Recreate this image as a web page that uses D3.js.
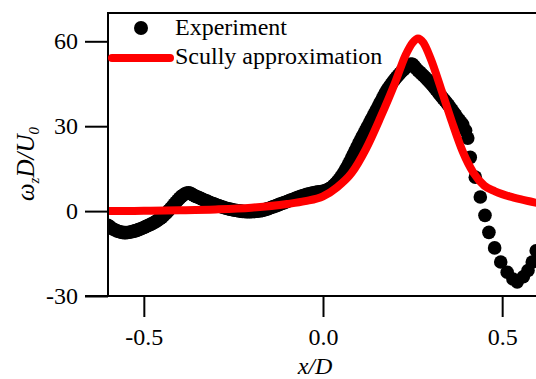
<!DOCTYPE html>
<html>
<head>
<meta charset="utf-8">
<script src="https://cdn.jsdelivr.net/npm/d3@7"></script>
<style>
  html, body { margin: 0; padding: 0; background: #fff; }
  svg { display: block; }
  text { font-family: "Liberation Serif", "Times New Roman", serif; fill: #000; }
</style>
</head>
<body>
<svg id="chart" width="536" height="379"></svg>
<script>
// Experiment (black dots)
const expX = [
-0.600,-0.595,-0.590,-0.585,-0.580,-0.575,-0.570,-0.565,-0.560,-0.555,
-0.550,-0.545,-0.540,-0.535,-0.530,-0.525,-0.520,-0.515,-0.510,-0.505,
-0.500,-0.495,-0.490,-0.485,-0.480,-0.475,-0.470,-0.465,-0.460,-0.455,
-0.450,-0.445,-0.440,-0.435,-0.430,-0.425,-0.420,-0.415,-0.410,-0.405,
-0.400,-0.395,-0.390,-0.385,-0.380,-0.375,-0.370,-0.365,-0.360,-0.355,
-0.350,-0.345,-0.340,-0.335,-0.330,-0.325,-0.320,-0.315,-0.310,-0.305,
-0.300,-0.295,-0.290,-0.285,-0.280,-0.275,-0.270,-0.265,-0.260,-0.255,
-0.250,-0.245,-0.240,-0.235,-0.230,-0.225,-0.220,-0.215,-0.210,-0.205,
-0.200,-0.195,-0.190,-0.185,-0.180,-0.175,-0.170,-0.165,-0.160,-0.155,
-0.150,-0.145,-0.140,-0.135,-0.130,-0.125,-0.120,-0.115,-0.110,-0.105,
-0.100,-0.095,-0.090,-0.085,-0.080,-0.075,-0.070,-0.065,-0.060,-0.055,
-0.050,-0.045,-0.040,-0.035,-0.030,-0.025,-0.020,-0.015,-0.010,-0.005,
0.000,0.005,0.010,0.015,0.020,0.025,0.030,0.035,0.040,0.045,
0.050,0.055,0.060,0.065,0.070,0.075,0.080,0.085,0.090,0.095,
0.100,0.105,0.110,0.115,0.120,0.125,0.130,0.135,0.140,0.145,
0.150,0.155,0.160,0.165,0.170,0.175,0.180,0.185,0.190,0.195,
0.200,0.205,0.210,0.215,0.220,0.225,0.230,0.235,0.240,0.245,
0.250,0.255,0.260,0.265,0.270,0.275,0.280,0.285,0.290,0.295,
0.300,0.305,0.310,0.315,0.320,0.325,0.330,0.335,0.340,0.345,
0.350,0.355,0.360,0.365,0.370,0.375,0.380,0.385,0.390,0.398,
0.404,0.411,0.425,0.439,0.452,0.463,0.479,0.496,0.514,0.530,
0.542,0.559,0.572,0.584,0.595];
const expY = [
-5.0,-5.5,-6.0,-6.4,-6.7,-7.0,-7.2,-7.4,-7.5,-7.6,
-7.6,-7.55,-7.45,-7.3,-7.15,-7.0,-6.8,-6.55,-6.3,-6.05,
-5.8,-5.5,-5.2,-4.9,-4.6,-4.3,-3.95,-3.55,-3.1,-2.65,
-2.2,-1.6,-1.0,-0.35,0.3,1.0,1.7,2.5,3.2,3.9,
4.6,5.2,5.7,6.1,6.4,6.5,6.3,5.9,5.5,5.2,
5.0,4.7,4.4,4.1,3.85,3.6,3.3,3.05,2.8,2.55,
2.3,2.05,1.85,1.6,1.4,1.2,1.0,0.85,0.7,0.55,
0.4,0.3,0.2,0.1,0.0,-0.1,-0.15,-0.2,-0.2,-0.2,
-0.2,-0.15,-0.1,0.0,0.05,0.1,0.25,0.4,0.6,0.8,
1.0,1.25,1.5,1.7,1.95,2.2,2.45,2.7,2.9,3.15,
3.4,3.65,3.9,4.1,4.35,4.6,4.85,5.05,5.3,5.5,
5.7,5.9,6.05,6.2,6.35,6.5,6.6,6.7,6.8,6.9,
7.0,7.2,7.4,7.7,8.1,8.5,9.1,9.7,10.4,11.2,
12.0,13.0,14.0,15.1,16.3,17.5,18.8,20.1,21.4,22.7,
24.0,25.2,26.4,27.6,28.8,30.0,31.2,32.4,33.6,34.8,
36.0,37.2,38.4,39.6,40.8,42.0,43.0,43.9,44.8,45.7,
46.5,47.3,48.0,48.7,49.4,50.0,50.6,51.1,51.6,52.0,
51.9,51.2,50.4,49.7,49.1,48.5,47.9,47.3,46.6,46.0,
45.3,44.6,43.8,43.0,42.2,41.4,40.6,39.8,39.1,38.3,
37.5,36.6,35.7,34.8,33.9,33.0,32.2,31.4,30.6,28.5,
25.8,19.0,12.0,5.0,-1.5,-7.5,-13.0,-18.0,-21.6,-24.0,
-25.0,-23.2,-21.0,-18.0,-14.0];

// Scully approximation (red line)
const scullyX = [-0.6,-0.5,-0.4,-0.3,-0.2,-0.1,-0.05,0.0,0.04,0.08,0.12,0.16,0.2,0.23,0.25,0.265,0.28,0.3,0.33,0.36,0.39,0.42,0.45,0.48,0.5,0.52,0.55,0.6];
const scullyY = [0,0.1,0.3,0.6,1.2,2.5,3.5,5.2,8.5,13.5,22,33,45,55,59.5,61,59.5,54,43,31.5,21,13.5,9,7,6,5.2,4.2,2.8];

const xTicks = [-0.5, 0.0, 0.5];
const yTicks = [-30, 0, 30, 60];
const legendLabels = ["Experiment", "Scully approximation"];

const FONT = '"Liberation Serif", "Times New Roman", serif';
const svg = d3.select("#chart");
const L = 108, R = 538, T = 13, B = 296;

const x = d3.scaleLinear().domain([-0.6, 0.6]).range([L, R]);
const y = d3.scaleLinear().domain([-30, 70]).range([B, T]);

svg.append("clipPath").attr("id", "clip")
  .append("rect").attr("x", L).attr("y", T).attr("width", R - L).attr("height", B - T);

const plot = svg.append("g").attr("clip-path", "url(#clip)");

const expData = expX.map((d, i) => ({x: d, y: expY[i]}));
plot.selectAll("circle.exp").data(expData).enter().append("circle")
  .attr("class", "exp")
  .attr("cx", d => x(d.x)).attr("cy", d => y(d.y)).attr("r", 6.8)
  .attr("fill", "#000");

const scData = scullyX.map((d, i) => ({x: d, y: scullyY[i]}));
const line = d3.line().x(d => x(d.x)).y(d => y(d.y)).curve(d3.curveMonotoneX);
plot.append("path").datum(scData)
  .attr("d", line).attr("fill", "none").attr("stroke", "#ff0000")
  .attr("stroke-width", 8).attr("stroke-linejoin", "round").attr("stroke-linecap", "round");

// Axes
const hy = s => s.replace("\u2212", "-");
const yAxis = d3.axisLeft(y).tickValues(yTicks).tickSize(23).tickPadding(7)
  .tickFormat(d => hy(d3.format("d")(d)));
const gy = svg.append("g").attr("transform", `translate(${L},0)`).call(yAxis);
gy.select(".domain").remove();

const xAxis = d3.axisBottom(x).tickValues(xTicks).tickSize(21).tickPadding(11)
  .tickFormat(d => hy(d3.format(".1f")(d)));
const gx = svg.append("g").attr("transform", `translate(0,${B})`).call(xAxis);
gx.select(".domain").remove();

[gx, gy].forEach(g => {
  g.attr("font-family", null).attr("font-size", null);
  g.selectAll("line").attr("stroke", "#000").attr("stroke-width", 2);
  g.selectAll("text").attr("font-size", 24).attr("fill", "#000").style("font-family", FONT);
});
gx.selectAll("text").attr("dy", "0.71em");

// frame
svg.append("line").attr("x1", L).attr("x2", L).attr("y1", T).attr("y2", B)
  .attr("stroke", "#000").attr("stroke-width", 2);
svg.append("line").attr("x1", L - 1).attr("x2", R).attr("y1", T).attr("y2", T)
  .attr("stroke", "#000").attr("stroke-width", 2);
svg.append("line").attr("x1", L - 23).attr("x2", R).attr("y1", B).attr("y2", B)
  .attr("stroke", "#000").attr("stroke-width", 2);

// axis titles
svg.append("text").attr("x", 315).attr("y", 374).attr("text-anchor", "middle")
  .attr("font-size", 24).attr("font-style", "italic").style("font-family", FONT).text("x/D");

const yl = svg.append("text").attr("transform", "translate(34,164) rotate(-90)")
  .attr("text-anchor", "middle").attr("font-size", 25).attr("font-style", "italic")
  .style("font-family", FONT);
yl.append("tspan").text("ω");
yl.append("tspan").attr("dy", 5).attr("font-size", 15).text("z");
yl.append("tspan").attr("dy", -5).text("D/U");
yl.append("tspan").attr("dy", 5).attr("font-size", 15).text("0");

// legend
svg.append("circle").attr("cx", 141).attr("cy", 28).attr("r", 7).attr("fill", "#000");
svg.append("text").attr("x", 175).attr("y", 35).attr("font-size", 24).style("font-family", FONT).text(legendLabels[0]);
svg.append("line").attr("x1", 112).attr("x2", 170).attr("y1", 58).attr("y2", 58)
  .attr("stroke", "#ff0000").attr("stroke-width", 8).attr("stroke-linecap", "round");
svg.append("text").attr("x", 175).attr("y", 64).attr("font-size", 24).style("font-family", FONT).text(legendLabels[1]);
</script>
</body>
</html>
